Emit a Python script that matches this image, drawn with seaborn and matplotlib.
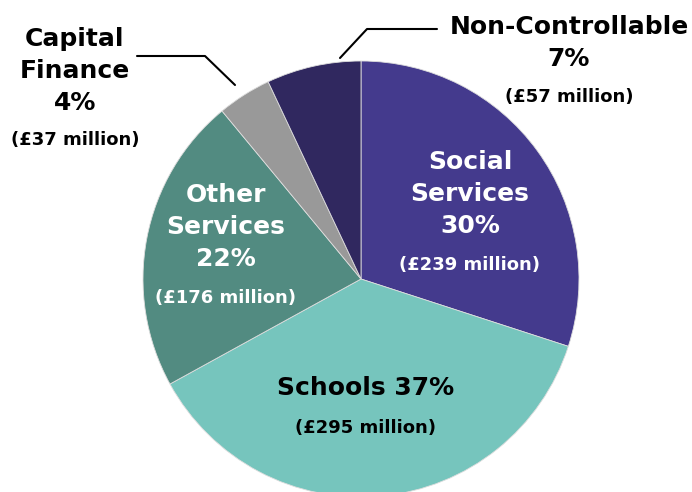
import seaborn as sns
import matplotlib.pyplot as plt

categories = ["Social Services", "Schools", "Other Services", "Capital Finance", "Non-Controllable"]
millions = [239, 295, 176, 37, 57]
percents = [30, 37, 22, 4, 7]
colors = ["#443a8d", "#76c5bd", "#528b81", "#999999", "#30285f"]

sns.set_theme(style="white")
plt.rcParams['font.family'] = ['DejaVu Sans']

W, H = 692, 492
cx, cy, R = 361, 279, 218


def px(x, y):
    # pixel position -> data coords (pie centre at 0,0, radius 1)
    return (x - cx) / R, (cy - y) / R


fig = plt.figure(figsize=(W / 100, H / 100), dpi=100)
ax = fig.add_axes([0, 0, 1, 1])
# the slices follow the rounded percentages
ax.pie(percents, colors=colors, startangle=90, counterclock=False, radius=1,
       wedgeprops=dict(linewidth=0.6, edgecolor="#dddddd"))
ax.set_xlim(-cx / R, (W - cx) / R)
ax.set_ylim((cy - H) / R, cy / R)
ax.set_aspect("equal")
ax.axis("off")

big = dict(fontsize=18, fontweight="bold", ha="center", va="center", linespacing=1.42)
small = dict(fontsize=13, fontweight="bold", ha="center", va="center")

# Social Services
ax.text(*px(470, 194), "Social\nServices\n%d%%" % percents[0], color="white", **big)
ax.text(*px(470, 265), "(£%d million)" % millions[0], color="white", **small)
# Schools
ax.text(*px(366, 388), "Schools %d%%" % percents[1], color="black", **big)
ax.text(*px(366, 428), "(£%d million)" % millions[1], color="black", **small)
# Other Services
ax.text(*px(226, 227), "Other\nServices\n%d%%" % percents[2], color="white", **big)
ax.text(*px(226, 298), "(£%d million)" % millions[2], color="white", **small)
# Capital Finance
ax.text(*px(75, 71), "Capital\nFinance\n%d%%" % percents[3], color="black", **big)
ax.text(*px(75, 140), "(£%d million)" % millions[3], color="black", **small)
# Non-Controllable
ax.text(*px(569, 43), "Non-Controllable\n%d%%" % percents[4], color="black", **big)
ax.text(*px(569, 97), "(£%d million)" % millions[4], color="black", **small)

# leader lines
x1, y1 = zip(px(137, 56), px(205, 56), px(235, 85))
ax.plot(x1, y1, color="black", lw=1.5)
x2, y2 = zip(px(340, 58), px(367, 29), px(437, 29))
ax.plot(x2, y2, color="black", lw=1.5)

fig.savefig("out.png", dpi=100)
